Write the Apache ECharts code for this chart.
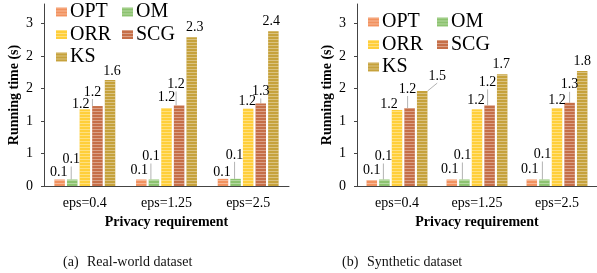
<!DOCTYPE html>
<html>
    <head>
        <meta charset="utf-8">
        <title>Running time</title>
        <script src="https://cdn.jsdelivr.net/npm/echarts@6/dist/echarts.min.js"></script>
        <style>
            body { margin: 0; background: #fff; }
        </style>
    </head>
    <body>
        <div id="main" style="width: 597px;height: 273px;"></div>

        <script>
            let categories = ['eps=0.4', 'eps=1.25', 'eps=2.5'];
            let methods = ['OPT', 'OM', 'ORR', 'SCG', 'KS'];
            let yTicks = [0, 0.5, 1, 1.5, 2, 2.5];
            let yTickLabels = ['0', '1', '1', '2', '2', '3'];

            // real-world dataset (a)
            let realOPT = [0.1, 0.1, 0.11];
            let realOM = [0.1, 0.1, 0.11];
            let realORR = [1.18, 1.2, 1.19];
            let realSCG = [1.23, 1.24, 1.27];
            let realKS = [1.63, 2.29, 2.38];

            // synthetic dataset (b)
            let synOPT = [0.09, 0.1, 0.1];
            let synOM = [0.1, 0.1, 0.1];
            let synORR = [1.17, 1.18, 1.2];
            let synSCG = [1.2, 1.24, 1.28];
            let synKS = [1.46, 1.72, 1.77];

            let colors = {
                OPT: '#f2925f',
                OM: '#8cc36f',
                ORR: '#ffcf3a',
                SCG: '#c66f48',
                KS: '#c6a23c'
            };
            let serif = 'Liberation Serif, Times New Roman, serif';

            // label nudges [dx, dy] per bar, Excel labels were moved by hand
            let nudgeLeft = {
                OPT: [[-1, 3], [-2, 1], [-1, 3]],
                OM: [[-1, -10], [-3, -13], [-1, -14]],
                ORR: [[-4, 5], [0, -1], [-1, 3]],
                SCG: [[-5, -4], [-3, -11], [0, -2]],
                KS: [[2, 1], [3, 0], [-2, 0]]
            };
            let nudgeRight = {
                OPT: [[0, 0], [-2, 0], [-2, 0]],
                OM: [[-1, -13], [-2, -14], [-2, -15]],
                ORR: [[-8, 4], [-1, 1], [0, 2]],
                SCG: [[-2, -9], [-2, -13], [0, -8]],
                KS: [[15, -5], [-1, 0], [0, 0]]
            };

            function makeSeries(name, values, axisIdx, nudge, lineAt) {
                return {
                    name: name,
                    type: 'bar',
                    xAxisIndex: axisIdx,
                    yAxisIndex: axisIdx,
                    barWidth: 10.5,
                    barGap: '20%',
                    data: values.map(function (v, i) {
                        return {
                            value: v,
                            labelLine: { show: lineAt.indexOf(i) >= 0 }
                        };
                    }),
                    itemStyle: {
                        color: colors[name],
                        decal: {
                            symbol: 'rect',
                            symbolSize: 1,
                            dashArrayX: [1, 0],
                            dashArrayY: [1, 2],
                            rotation: 0,
                            color: 'rgba(255,255,255,0.35)'
                        }
                    },
                    label: {
                        show: true,
                        position: 'top',
                        distance: 3,
                        fontFamily: serif,
                        fontSize: 14,
                        color: '#000',
                        formatter: function (p) { return p.value.toFixed(1); }
                    },
                    labelLine: {
                        lineStyle: { color: '#a0a0a0', width: 0.8 }
                    },
                    labelLayout: function (p) {
                        let n = nudge[name][p.dataIndex];
                        return { dx: n[0], dy: n[1] };
                    }
                };
            }

            function makeX(gridIdx) {
                return {
                    type: 'category',
                    gridIndex: gridIdx,
                    data: categories,
                    axisTick: { show: false },
                    axisLine: { lineStyle: { color: '#444', width: 1 } },
                    axisLabel: { fontFamily: serif, fontSize: 14, color: '#000', margin: 10 },
                    name: 'Privacy requirement',
                    nameLocation: 'middle',
                    nameGap: 27,
                    nameTextStyle: { fontFamily: serif, fontSize: 14, fontWeight: 'bold', color: '#000' }
                };
            }

            function makeY(gridIdx) {
                return {
                    type: 'value',
                    gridIndex: gridIdx,
                    min: 0,
                    max: 2.8,
                    splitLine: { show: false },
                    axisLine: { show: true, lineStyle: { color: '#444', width: 1 } },
                    axisTick: { show: true, length: 3, customValues: yTicks, lineStyle: { color: '#444' } },
                    axisLabel: {
                        customValues: yTicks,
                        fontFamily: serif,
                        fontSize: 14,
                        color: '#000',
                        margin: 11,
                        formatter: function (v) {
                            let i = yTicks.indexOf(v);
                            return i >= 0 ? yTickLabels[i] : '';
                        }
                    },
                    name: 'Running time (s)',
                    nameLocation: 'middle',
                    nameRotate: 90,
                    nameGap: 23,
                    nameTextStyle: { fontFamily: serif, fontSize: 14, fontWeight: 'bold', color: '#000' }
                };
            }

            function makeLegend(names, left, top) {
                return {
                    data: names,
                    orient: 'vertical',
                    left: left,
                    top: top,
                    padding: 0,
                    itemGap: 2.5,
                    itemWidth: 11,
                    itemHeight: 9,
                    icon: 'rect',
                    selectedMode: false,
                    textStyle: { fontFamily: serif, fontSize: 20, color: '#000', padding: [0, 0, 0, -2] }
                };
            }

            let captionStyle = { fontFamily: serif, fontSize: 14, fill: '#111', textVerticalAlign: 'middle' };

            let option = {
                animation: false,
                grid: [
                    { left: 44, top: 4, width: 245, height: 182 },
                    { left: 357, top: 4, width: 245, height: 182 }
                ],
                xAxis: [makeX(0), makeX(1)],
                yAxis: [makeY(0), makeY(1)],
                legend: [
                    makeLegend(['OPT', 'ORR', 'KS'], 56, 2),
                    makeLegend(['OM', 'SCG'], 122, 2),
                    makeLegend(['OPT', 'ORR', 'KS'], 368, 12),
                    makeLegend(['OM', 'SCG'], 437, 12)
                ],
                graphic: [
                    { type: 'text', left: 63, top: 255, style: Object.assign({ text: '(a)' }, captionStyle) },
                    { type: 'text', left: 87, top: 255, style: Object.assign({ text: 'Real-world dataset' }, captionStyle) },
                    { type: 'text', left: 342, top: 255, style: Object.assign({ text: '(b)' }, captionStyle) },
                    { type: 'text', left: 367, top: 255, style: Object.assign({ text: 'Synthetic dataset' }, captionStyle) }
                ],
                series: [
                    makeSeries('OPT', realOPT, 0, nudgeLeft, []),
                    makeSeries('OM', realOM, 0, nudgeLeft, [0, 1, 2]),
                    makeSeries('ORR', realORR, 0, nudgeLeft, []),
                    makeSeries('SCG', realSCG, 0, nudgeLeft, [0, 1, 2]),
                    makeSeries('KS', realKS, 0, nudgeLeft, []),
                    makeSeries('OPT', synOPT, 1, nudgeRight, []),
                    makeSeries('OM', synOM, 1, nudgeRight, [0, 1, 2]),
                    makeSeries('ORR', synORR, 1, nudgeRight, []),
                    makeSeries('SCG', synSCG, 1, nudgeRight, [0, 1, 2]),
                    makeSeries('KS', synKS, 1, nudgeRight, [0])
                ]
            };

            let chart = echarts.init(document.getElementById('main'));
            chart.setOption(option);
        </script>
    </body>
</html>
